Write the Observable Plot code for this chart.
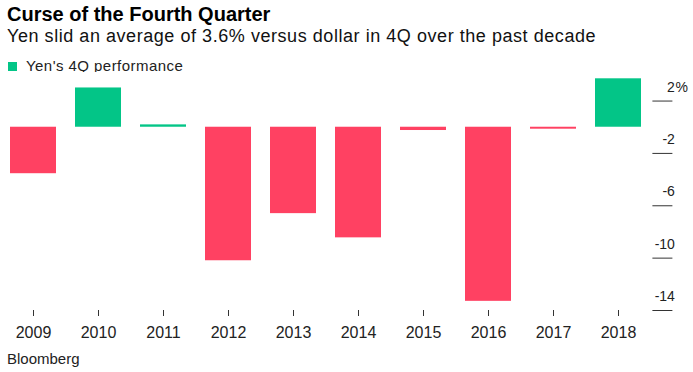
<!DOCTYPE html>
<html>
<head>
<meta charset="utf-8">
<script src="https://cdn.jsdelivr.net/npm/d3@7"></script>
<script src="https://cdn.jsdelivr.net/npm/@observablehq/plot@0.6"></script>
<style>
  html, body { margin: 0; padding: 0; background: #fff; }
  #wrap { position: relative; width: 693px; height: 372px; overflow: hidden; font-family: "Liberation Sans", Arial, sans-serif; color: #000; }
  .title { position: absolute; left: 7px; top: 4px; font-size: 20px; line-height: 20px; font-weight: bold; white-space: nowrap; }
  .subtitle { position: absolute; left: 7px; top: 27px; font-size: 18px; line-height: 18px; letter-spacing: 0.55px; white-space: nowrap; color: #111; }
  .legend { position: absolute; left: 8px; top: 58px; font-size: 15px; line-height: 15px; letter-spacing: 0.45px; white-space: nowrap; color: #222; }
  .legend .sw { display: inline-block; width: 9px; height: 9px; margin-right: 9px; vertical-align: 0px; }
  .source { position: absolute; left: 7px; top: 351px; font-size: 15px; line-height: 15px; color: #222; }
  #chart { position: absolute; left: 0; top: 72px; }
</style>
</head>
<body>
<div id="wrap">
  <div class="title">Curse of the Fourth Quarter</div>
  <div class="subtitle">Yen slid an average of 3.6% versus dollar in 4Q over the past decade</div>
  <div class="legend"><span class="sw" id="sw"></span>Yen's 4Q performance</div>
  <div id="chart"></div>
  <div class="source">Bloomberg</div>
</div>
<script>
const years = ["2009", "2010", "2011", "2012", "2013", "2014", "2015", "2016", "2017", "2018"];
const change = [-3.55, 3.0, 0.18, -10.2, -6.6, -8.45, -0.25, -13.3, -0.15, 3.7];
const yTicks = [2, -2, -6, -10, -14];
const green = "#03c587";
const red = "#ff4162";

document.getElementById("sw").style.background = green;

const data = years.map((y, i) => ({year: y, value: change[i], sign: change[i] >= 0 ? "up" : "down"}));

const chart = Plot.plot({
  width: 693,
  height: 272,
  marginTop: 6.3,
  marginBottom: 34,
  marginLeft: 0,
  marginRight: 41.6,
  x: {domain: years, paddingInner: 0.3, paddingOuter: 0.1, axis: null},
  y: {domain: [-14, 3.7], axis: null},
  color: {domain: ["up", "down"], range: [green, red]},
  style: {fontFamily: "'Liberation Sans', Arial, sans-serif", background: "#fff", color: "#222", overflow: "visible"},
  marks: [
    Plot.barY(data, {x: "year", y: "value", fill: "sign"}),
    Plot.axisX({tickSize: 6, tickPadding: 10, fontSize: 16, stroke: "#333", fill: "#222", label: null, style: {letterSpacing: "0.5px"}}),
    Plot.axisY(yTicks, {anchor: "right", tickSize: 20, tickFormat: () => "", stroke: "#333", label: null}),
    Plot.axisY(yTicks, {anchor: "right", tickSize: 0, tickPadding: 23, textAnchor: "end", lineAnchor: "middle", dy: -14, fontSize: 14, tickFormat: d => String(d), stroke: "none", fill: "#222", label: null}),
    Plot.text([2], {y: d => d, text: () => "%", frameAnchor: "right", textAnchor: "start", lineAnchor: "middle", dx: 23.5, dy: -14, fontSize: 14, fill: "#222"})
  ]
});
document.getElementById("chart").appendChild(chart);
</script>
</body>
</html>
